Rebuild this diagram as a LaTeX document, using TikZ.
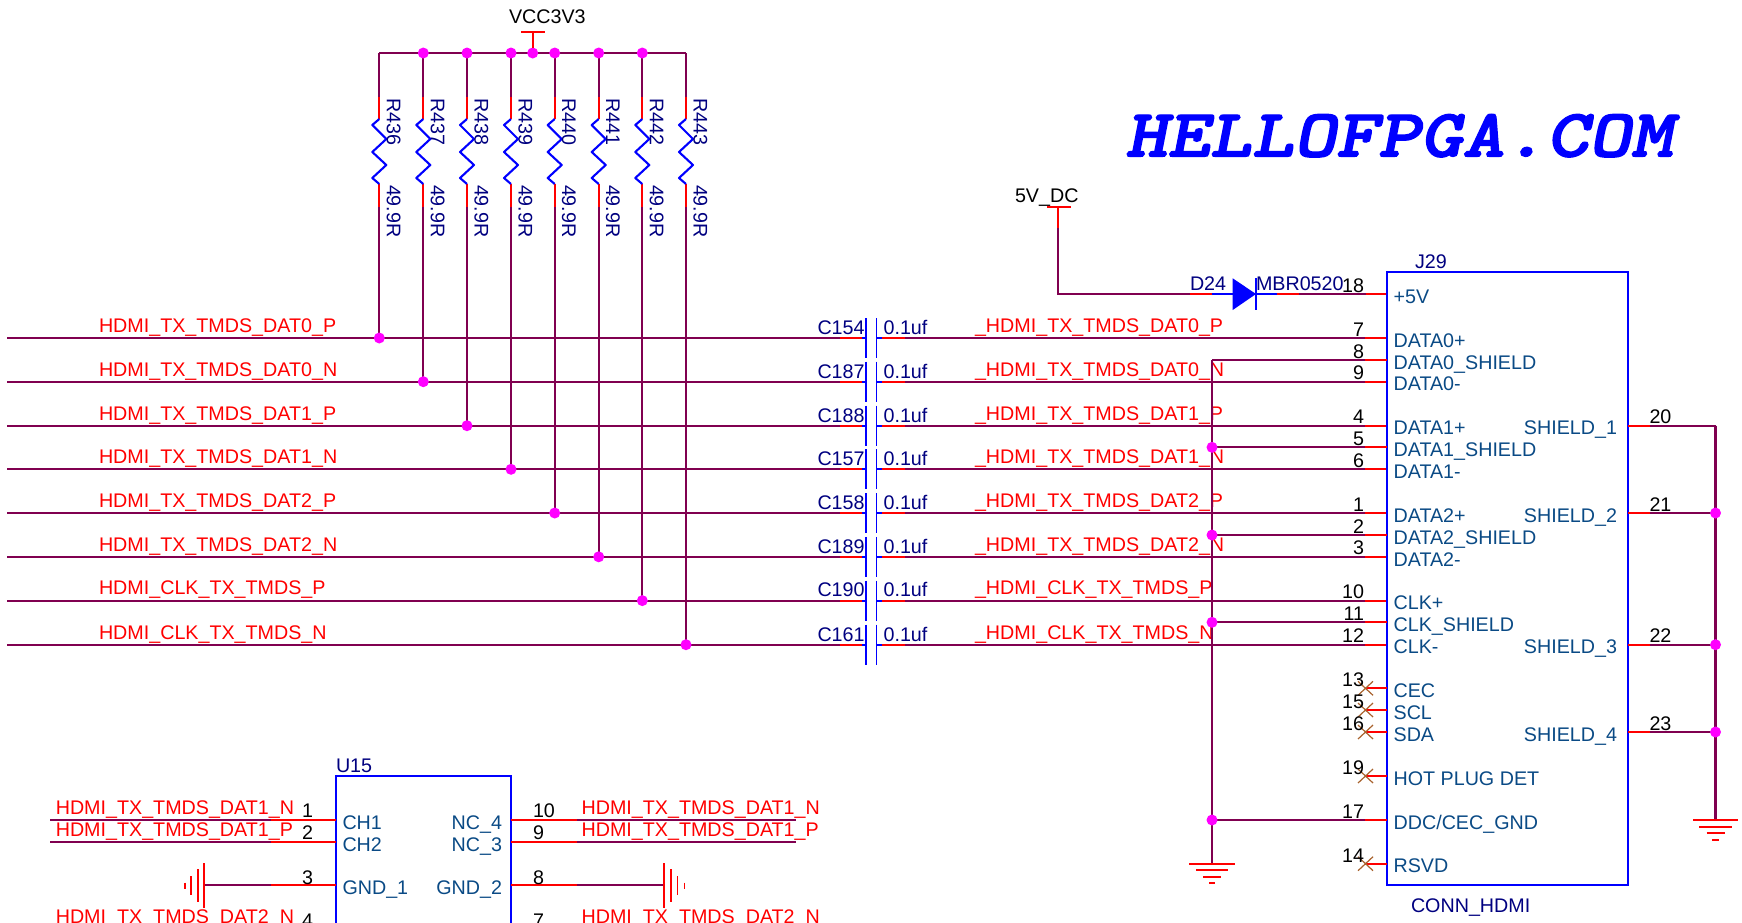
\documentclass[tikz,border=0pt]{standalone}
\usepackage{fontspec}
\setmainfont{Liberation Sans}
\definecolor{netwire}{HTML}{800050}
\definecolor{pinred}{HTML}{FF0000}
\definecolor{partblue}{HTML}{0000FF}
\definecolor{refnavy}{HTML}{000080}
\definecolor{pinname}{HTML}{0A4A85}
\definecolor{jct}{HTML}{FF00FF}
\definecolor{ncbrown}{HTML}{A8622D}
\newcommand{\txtsz}{\fontsize{19.7}{22}\selectfont}
\tikzset{
  netline/.style={draw=netwire,line width=2.1pt},
  pinline/.style={draw=pinred,line width=2.1pt},
  gndthin/.style={draw=pinred,line width=1.6pt},
  partline/.style={draw=partblue,line width=2.1pt},
  thinpart/.style={draw=partblue,line width=1.5pt},
  lbl/.style={inner sep=0pt,outer sep=0pt,font=\txtsz},
  netlbl/.style={lbl,text=pinred,anchor=base west},
  reflbl/.style={lbl,text=refnavy,anchor=base west},
  rotlbl/.style={lbl,text=refnavy,anchor=base west,rotate=-90},
  numl/.style={lbl,text=black,anchor=base east},
  numr/.style={lbl,text=black,anchor=base west},
  pnl/.style={lbl,text=pinname,anchor=base west},
  pnr/.style={lbl,text=pinname,anchor=base east},
  powlbl/.style={lbl,text=black,anchor=base west},
  dot/.style={circle,fill=jct,draw=none,minimum size=11pt,inner sep=0pt,outer sep=0pt},
}
\begin{document}
\begin{tikzpicture}[x=1pt,y=-1pt]
\useasboundingbox (0,0) rectangle (1742,922);
\clip (0,0) rectangle (1742,922);
% logo
\node[inner sep=0pt,anchor=base west,text=partblue,xscale=1.18] (logo) at (1125,156.5)
  {\special{pdf:code q 2 Tr 1.3 w}\ttfamily\bfseries\slshape\fontsize{68}{72}\selectfont HELLOFPGA.COM\special{pdf:code Q}};
% rows: y, left label, cap ref, right label, pin number, resistor x
\foreach \i/\yy/\nm/\cref/\pnum/\rx/\rn in {
  1/338/HDMI\_TX\_TMDS\_DAT0\_P/C154/7/379.3/R436,
  2/381.7/HDMI\_TX\_TMDS\_DAT0\_N/C187/9/423.3/R437,
  3/425.7/HDMI\_TX\_TMDS\_DAT1\_P/C188/4/467/R438,
  4/469.3/HDMI\_TX\_TMDS\_DAT1\_N/C157/6/511/R439,
  5/513/HDMI\_TX\_TMDS\_DAT2\_P/C158/1/554.7/R440,
  6/556.8/HDMI\_TX\_TMDS\_DAT2\_N/C189/3/598.7/R441,
  7/600.6/HDMI\_CLK\_TX\_TMDS\_P/C190/10/642.3/R442,
  8/644.7/HDMI\_CLK\_TX\_TMDS\_N/C161/12/686/R443}{
  \coordinate (bl\i) at (7,\yy);
  \coordinate (ca\i) at (840,\yy);
  \coordinate (cb\i) at (862,\yy);
  \coordinate (cp\i) at (865.8,\yy);
  \coordinate (cq\i) at (876.5,\yy);
  \coordinate (cr\i) at (882,\yy);
  \coordinate (cs\i) at (904.6,\yy);
  \coordinate (ct\i) at (1365,\yy);
  \coordinate (cu\i) at (1387,\yy);
  % resistor leg
  \coordinate (rt\i) at (\rx,53);
  \coordinate (ra\i) at (\rx,97);
  \coordinate (rb\i) at (\rx,119);
  \coordinate (rc\i) at (\rx,184);
  \coordinate (rd\i) at (\rx,207);
  \coordinate (re\i) at (\rx,\yy);
  \draw[netline] (bl\i) -- (ca\i);
  \draw[netline] (cs\i) -- (ct\i);
  \draw[pinline] (ca\i) -- (cb\i);
  \draw[pinline] (cr\i) -- (cs\i);
  \draw[pinline] (ct\i) -- (cu\i);
  \draw[partline] (cb\i) -- (cp\i);
  \draw[partline] (cq\i) -- (cr\i);
  \draw[thinpart] (865.8,\yy-20) -- (865.8,\yy+20);
  \draw[thinpart] (876.5,\yy-20) -- (876.5,\yy+20);
  \draw[netline] (rt\i) -- (ra\i);
  \draw[netline] (rd\i) -- (re\i);
  \draw[pinline] (ra\i) -- (rb\i);
  \draw[pinline] (rc\i) -- (rd\i);
  \draw[partline,line join=round] (rb\i) -- ++(-7,6) -- ++(14,14) -- ++(-14,13) -- ++(14,13) -- ++(-14,13) -- (rc\i);
  \node[dot] (rj\i) at (re\i) {};
  \node[rotlbl] (rr\i) at (\rx+7.5,98) {\rn};
  \node[rotlbl] (rv\i) at (\rx+7.5,185) {49.9R};
  \node[netlbl] (nl\i) at (99,\yy-5.7) {\nm};
  \node[reflbl] (cl\i) at (817.5,\yy-3.7) {\cref};
  \node[reflbl] (cv\i) at (883.6,\yy-3.7) {0.1uf};
  \node[netlbl] (nr\i) at (975,\yy-5.7) {\_\nm};
  \node[numl] (pn\i) at (1364,\yy-2) {\pnum};
}
% VCC rail
\draw[netline] (rt1) -- (rt8);
\foreach \i in {2,...,7}{\node[dot] (tj\i) at (rt\i) {};}
\coordinate (vcc) at (532.7,32);
\node[dot] (vj) at (532.7,53) {};
\draw[pinline] (vcc) -- (vj);
\draw[pinline] (521,32) -- (545,32);
\node[powlbl] (vcclbl) at (509,23.7) {VCC3V3};
% 5V and diode
\coordinate (fv) at (1058.3,206.7);
\coordinate (fa) at (1058.3,228.3);
\coordinate (fb) at (1058.3,294);
\coordinate (fc) at (1190,294);
\coordinate (fd) at (1211.7,294);
\coordinate (da) at (1232.7,294);
\coordinate (dk) at (1256,294);
\coordinate (de) at (1276.7,294);
\coordinate (df) at (1299.3,294);
\coordinate (dg) at (1366,294);
\coordinate (dh) at (1387,294);
\draw[pinline] (1047,206.7) -- (1070.7,206.7);
\draw[pinline] (fv) -- (fa);
\draw[netline] (fa) -- (fb) -- (fc);
\draw[pinline] (fc) -- (fd);
\draw[partline] (fd) -- (da);
\fill[partblue] (1232.7,278.3) -- (1256,294) -- (1232.7,310) -- cycle;
\draw[thinpart] (1256,278.3) -- (1256,310);
\draw[partline] (dk) -- (de);
\draw[pinline] (de) -- (df);
\draw[netline] (df) -- (dg);
\draw[pinline] (dg) -- (dh);
\node[powlbl] (fivelbl) at (1015,202) {5V\_DC};
\node[reflbl] (dref) at (1190,290) {D24};
\node[reflbl] (dval) at (1256,290) {MBR0520};
\node[numl] (pn18) at (1364,292) {18};
% J29 body
\draw[partline] (1387,271.7) rectangle (1628,885.3);
\node[reflbl] (jref) at (1415,268) {J29};
\node[reflbl] (jval) at (1411,912.7) {CONN\_HDMI};
\foreach \n/\yy in {+5V/294,DATA0+/338,DATA0\_SHIELD/360,DATA0-/381.7,DATA1+/425.7,DATA1\_SHIELD/447.3,DATA1-/469.3,DATA2+/513,DATA2\_SHIELD/535,DATA2-/556.8,CLK+/600.6,CLK\_SHIELD/622.3,CLK-/644.4,CEC/688.3,SCL/710,SDA/732,HOT PLUG DET/776,{DDC/CEC\_GND}/820,RSVD/863.7}{
  \node[pnl] at (1393.6,\yy+9.2) {\n};
}
% shield bus on the left
\coordinate (gt) at (1212,360);
\coordinate (gb) at (1212,863.7);
\draw[netline] (gb) -- (gt);
\foreach \i/\yy/\num in {1/360/8,2/447.3/5,3/535/2,4/622.3/11,5/820/17}{
  \coordinate (sa\i) at (1212,\yy);
  \coordinate (sb\i) at (1365,\yy);
  \coordinate (sc\i) at (1387,\yy);
  \draw[netline] (sa\i) -- (sb\i);
  \draw[pinline] (sb\i) -- (sc\i);
  \node[numl] (sn\i) at (1364,\yy-2) {\num};
}
\foreach \i in {2,3,4,5}{\node[dot] (sj\i) at (sa\i) {};}
\draw[pinline] (1189,863.7) -- (1235,863.7);
\draw[pinline] (1196,870) -- (1228,870);
\draw[pinline] (1203,876.7) -- (1221,876.7);
\draw[pinline] (1209,883.3) -- (1215,883.3);
% not connected
\foreach \i/\yy/\num in {1/688.3/13,2/710/15,3/732/16,4/776/19,5/863.7/14}{
  \coordinate (xa\i) at (1365.5,\yy);
  \coordinate (xb\i) at (1387,\yy);
  \draw[pinline] (xa\i) -- (xb\i);
  \draw[draw=ncbrown,line width=1.2pt] (1358,\yy-7) -- (1373,\yy+7) (1358,\yy+7) -- (1373,\yy-7);
  \node[numl] (xn\i) at (1364,\yy-1.5) {\num};
}
% right shields
\coordinate (rbt) at (1715.5,425.7);
\coordinate (rbb) at (1715.5,820);
\draw[netline] (rbt) -- (rbb);
\foreach \i/\yy/\num/\n in {1/425.7/20/SHIELD\_1,2/513/21/SHIELD\_2,3/644.7/22/SHIELD\_3,4/732/23/SHIELD\_4}{
  \coordinate (sr\i) at (1628,\yy);
  \coordinate (ss\i) at (1649.5,\yy);
  \coordinate (st\i) at (1715.5,\yy);
  \draw[pinline] (sr\i) -- (ss\i);
  \draw[netline] (ss\i) -- (st\i);
  \node[numr] (srn\i) at (1649.5,\yy-2) {\num};
  \node[pnr] (srp\i) at (1617,\yy+9.2) {\n};
}
\foreach \i in {2,3,4}{\node[dot] (srj\i) at (st\i) {};}
\draw[pinline] (1693,820) -- (1738,820);
\draw[pinline] (1699,826.7) -- (1732,826.7);
\draw[pinline] (1706.5,833) -- (1724.5,833);
\draw[pinline] (1712,839.7) -- (1719,839.7);
% U15
\draw[partline] (336,775.7) rectangle (510.6,960);
\node[reflbl] (uref) at (336,772.7) {U15};
\foreach \i/\yy/\numa/\numb/\n/\m/\lab in {
  1/819.7/1/10/CH1/NC\_4/HDMI\_TX\_TMDS\_DAT1\_N,
  2/841.7/2/9/CH2/NC\_3/HDMI\_TX\_TMDS\_DAT1\_P,
  4/929/4/7/{}/{}/HDMI\_TX\_TMDS\_DAT2\_N}{
  \coordinate (ua\i) at (50.4,\yy);
  \coordinate (ub\i) at (271,\yy);
  \coordinate (uc\i) at (336,\yy);
  \coordinate (ud\i) at (510.6,\yy);
  \coordinate (ue\i) at (577,\yy);
  \coordinate (uf\i) at (795.7,\yy);
  \draw[netline] (ua\i) -- (ub\i);
  \draw[netline] (ue\i) -- (uf\i);
  \draw[pinline] (ub\i) -- (uc\i);
  \draw[pinline] (ud\i) -- (ue\i);
  \node[netlbl] (ul\i) at (55.8,\yy-5.7) {\lab};
  \node[netlbl] (ur\i) at (581.6,\yy-5.7) {\lab};
  \node[numl] (uln\i) at (313,\yy-2) {\numa};
  \node[numr] (urn\i) at (533,\yy-2) {\numb};
  \node[pnl] (up\i) at (342.5,\yy+9.5) {\n};
  \node[pnr] (uq\i) at (502,\yy+9.5) {\m};
}
\coordinate (gla) at (204,885.3);
\coordinate (glb) at (271,885.3);
\coordinate (glc) at (336,885.3);
\coordinate (gra) at (510.6,885.3);
\coordinate (grb) at (577,885.3);
\coordinate (grc) at (664,885.3);
\draw[netline] (gla) -- (glb);
\draw[pinline] (glb) -- (glc);
\draw[pinline] (gra) -- (grb);
\draw[netline] (grb) -- (grc);
\draw[gndthin] (204,863) -- (204,908);
\draw[gndthin] (198,869) -- (198,902);
\draw[gndthin] (191,876) -- (191,895);
\draw[gndthin] (185,882.5) -- (185,888.5);
\draw[gndthin] (664,863) -- (664,908);
\draw[gndthin] (671,869) -- (671,902);
\draw[gndthin] (677.5,876) -- (677.5,895);
\draw[gndthin] (684.6,882.5) -- (684.6,888.5);
\node[numl] (un3) at (313,884.3) {3};
\node[numr] (un8) at (533,884) {8};
\node[pnl] (up3) at (342.5,894.8) {GND\_1};
\node[pnr] (uq3) at (502,894.8) {GND\_2};
\end{tikzpicture}
\end{document}
